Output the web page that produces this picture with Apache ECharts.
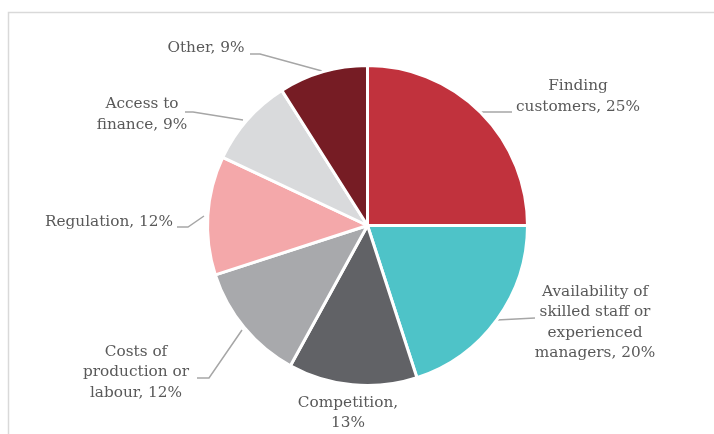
<!DOCTYPE html>
<html>
<head>
<meta charset="utf-8">
<script src="https://cdn.jsdelivr.net/npm/echarts@6/dist/echarts.min.js"></script>
<style>
  html, body { margin: 0; padding: 0; background: #fff; }
  #chart { width: 714px; height: 434px; }
</style>
</head>
<body>
<div id="chart"></div>
<script>
// slices, clockwise from 12 o'clock
var categories = ['Finding customers', 'Availability of skilled staff or experienced managers',
    'Competition', 'Costs of production or labour', 'Regulation', 'Access to finance', 'Other'];
var shares = [25, 20, 13, 12, 12, 9, 9];
var labelTexts = [
    'Finding\ncustomers, 25%',
    'Availability of\nskilled staff or\nexperienced\nmanagers, 20%',
    'Competition,\n13%',
    'Costs of\nproduction or\nlabour, 12%',
    'Regulation, 12%',
    'Access to\nfinance, 9%',
    'Other, 9%'
];
var sliceColors = ['#c1323d', '#4ec3c8', '#616266', '#a8a9ac', '#f4a8aa', '#d9dadc', '#761c24'];

// where the labels sit, and their leader lines
var labelPos = [
    {x: 578, y: 96.5, line: [[480, 112], [496, 112], [512, 112]]},
    {x: 595, y: 322.5, line: [[497, 320], [516, 319], [535, 318]]},
    {x: 348, y: 413, line: null},
    {x: 136, y: 372.5, line: [[242, 330], [209, 378], [197, 378]]},
    {x: 109, y: 222, line: [[204, 216], [188, 227], [177, 227]]},
    {x: 142, y: 114.5, line: [[243, 120], [193, 112], [185, 112]]},
    {x: 206, y: 48, line: [[322, 71], [260, 54], [250, 54]]}
];

var pieData = [];
for (var i = 0; i < categories.length; i++) {
    pieData.push({
        name: categories[i],
        value: shares[i],
        itemStyle: {color: sliceColors[i]},
        labelLine: {show: labelPos[i].line !== null}
    });
}

var myChart = echarts.init(document.getElementById('chart'));
var option = {
    backgroundColor: '#fff',
    animation: false,
    graphic: [{
        type: 'rect',
        shape: {x: 8.5, y: 12.5, width: 720, height: 440},
        style: {fill: 'none', stroke: '#d9d9d9', lineWidth: 1.5},
        silent: true
    }],
    series: [{
        type: 'pie',
        center: [367.5, 225.5],
        radius: 160,
        startAngle: 90,
        clockwise: true,
        data: pieData,
        itemStyle: {
            borderColor: '#fff',
            borderWidth: 3
        },
        label: {
            show: true,
            position: 'outside',
            color: '#595959',
            fontFamily: 'DejaVu Serif',
            fontSize: 15.3,
            lineHeight: 20.5,
            align: 'center',
            formatter: function (p) {
                return labelTexts[p.dataIndex];
            }
        },
        labelLine: {
            show: true,
            lineStyle: {color: '#a6a6a6', width: 1.5}
        },
        labelLayout: function (params) {
            var pos = labelPos[params.dataIndex];
            var out = {
                x: pos.x,
                y: pos.y,
                align: 'center',
                verticalAlign: 'middle'
            };
            if (pos.line) {
                out.labelLinePoints = pos.line;
            }
            return out;
        }
    }]
};
myChart.setOption(option);
</script>
</body>
</html>
